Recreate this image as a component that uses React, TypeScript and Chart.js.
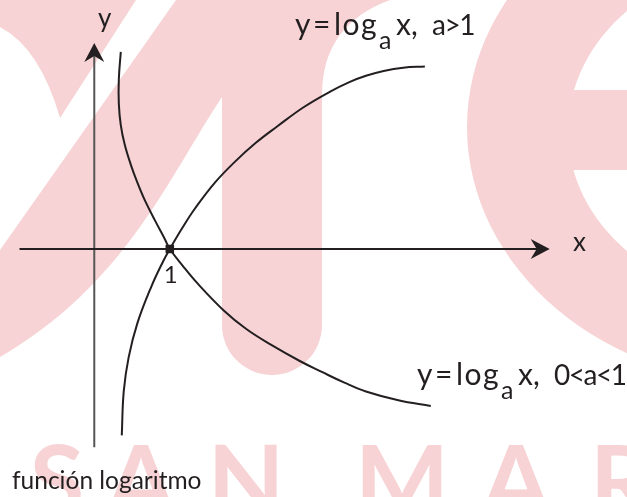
import { useEffect, useRef } from "react";
import { Chart, registerables } from "chart.js";

Chart.register(...registerables);

// ---- data (1 unit = distance from origin to x=1) ----
const increasingX = [0.364, 0.39, 0.455, 0.571, 0.753, 0.909, 1.0, 1.169, 1.338, 1.597, 1.857, 2.143, 2.429, 2.766, 3.117, 3.377, 3.597, 3.831, 4.091, 4.377];
const increasingY = [-2.481, -1.896, -1.442, -0.987, -0.506, -0.169, 0, 0.286, 0.545, 0.883, 1.156, 1.416, 1.636, 1.883, 2.091, 2.221, 2.305, 2.37, 2.413, 2.429];

const decreasingX = [0.351, 0.325, 0.325, 0.351, 0.403, 0.481, 0.571, 0.675, 0.805, 0.935, 1.0, 1.169, 1.364, 1.714, 2.013, 2.338, 2.727, 3.013, 3.312, 3.597, 4.026, 4.455];
const decreasingY = [2.623, 2.26, 1.935, 1.649, 1.39, 1.13, 0.883, 0.636, 0.377, 0.13, 0, -0.221, -0.455, -0.818, -1.065, -1.273, -1.494, -1.636, -1.779, -1.896, -2.013, -2.091];

const markX = [1];
const markY = [0];

const xAxisRange = [-0.99, 6.03];
const yAxisRange = [-2.64, 2.74];
const viewX = [-1.1688, 6.974];
const viewY = [-3.2208, 3.2338];

const tickLabels = ["1"];
const axisNames = ["x", "y"];
const upperLabel = ["y", "=", "log", "a", "x,", "a>1"];
const lowerLabel = ["y", "=", "log", "a", "x,", "0<a<1"];
const captionText = ["función logaritmo"];
const watermarkLetters = ["S", "A", "N", "M", "A", "R"];

// ---- styles ----
const INK = "#231f20";
const AXIS_Y = "#555555";
const PINK = "#f7d3d5";
const FONT = "Lato, 'Open Sans', sans-serif";

function pts(xs: number[], ys: number[]) {
  return xs.map((x, i) => ({ x, y: ys[i] }));
}

const watermarkPlugin = {
  id: "watermark",
  beforeDraw(chart: any) {
    const ctx: CanvasRenderingContext2D = chart.ctx;
    const W = chart.width;
    const H = chart.height;
    ctx.save();
    ctx.fillStyle = "#ffffff";
    ctx.fillRect(0, 0, W, H);
    ctx.fillStyle = PINK;

    // upper-left arm
    ctx.beginPath();
    ctx.moveTo(0, 0);
    ctx.lineTo(136, 0);
    ctx.lineTo(60, 118);
    ctx.quadraticCurveTo(40, 48, 0, 27);
    ctx.closePath();
    ctx.fill();

    // "m": slanted leg + stem
    ctx.beginPath();
    ctx.moveTo(176, 0);
    ctx.lineTo(390, 0);
    ctx.quadraticCurveTo(322, 25, 322, 95);
    ctx.lineTo(322, 325);
    ctx.arc(272, 325, 50, 0, Math.PI, false);
    ctx.lineTo(222, 97);
    ctx.bezierCurveTo(170, 175, 125, 285, 0, 357);
    ctx.lineTo(0, 250);
    ctx.closePath();
    ctx.fill();

    // "e"
    ctx.beginPath();
    ctx.ellipse(775, 127, 308, 258, 0, 0, Math.PI * 2);
    ctx.fill();
    ctx.fillStyle = "#ffffff";
    ctx.beginPath();
    ctx.ellipse(775, 131, 207, 172, 0, 0, Math.PI * 2);
    ctx.fill();
    ctx.fillStyle = PINK;
    ctx.fillRect(560, 90, W - 560, 80);

    // SAN MAR
    ctx.font = `bold 100px ${FONT}`;
    ctx.textAlign = "center";
    ctx.textBaseline = "alphabetic";
    const centers = [57, 141, 246, 402, 516, 622];
    watermarkLetters.forEach((ch, i) => ctx.fillText(ch, centers[i], 517));
    ctx.restore();
  },
};

function arrow(ctx: CanvasRenderingContext2D, tx: number, ty: number, dx: number, dy: number) {
  const len = 19;
  const half = 10;
  const notch = 13;
  const px = -dy;
  const py = dx;
  ctx.beginPath();
  ctx.moveTo(tx, ty);
  ctx.lineTo(tx - dx * len + px * half, ty - dy * len + py * half);
  ctx.lineTo(tx - dx * notch, ty - dy * notch);
  ctx.lineTo(tx - dx * len - px * half, ty - dy * len - py * half);
  ctx.closePath();
  ctx.fill();
}

const axesPlugin = {
  id: "axesArrows",
  beforeDatasetsDraw(chart: any) {
    const ctx: CanvasRenderingContext2D = chart.ctx;
    const xs = chart.scales.x;
    const ys = chart.scales.y;
    const x0 = xs.getPixelForValue(0);
    const y0 = ys.getPixelForValue(0);
    const xl = xs.getPixelForValue(xAxisRange[0]);
    const xr = xs.getPixelForValue(xAxisRange[1]);
    const yb = ys.getPixelForValue(yAxisRange[0]);
    const yt = ys.getPixelForValue(yAxisRange[1]);
    ctx.save();
    ctx.strokeStyle = AXIS_Y;
    ctx.fillStyle = INK;
    ctx.lineWidth = 2;
    ctx.beginPath();
    ctx.moveTo(x0, yb);
    ctx.lineTo(x0, yt + 8);
    ctx.stroke();
    arrow(ctx, x0, yt, 0, -1);
    ctx.strokeStyle = INK;
    ctx.beginPath();
    ctx.moveTo(xl, y0);
    ctx.lineTo(xr - 8, y0);
    ctx.stroke();
    arrow(ctx, xr, y0, 1, 0);
    ctx.restore();
  },
};

function drawPieces(ctx: CanvasRenderingContext2D, pieces: string[], x0: number, baseline: number) {
  const offsets = [0, 18, 39, 84, 101, 137];
  pieces.forEach((p, i) => {
    if (i === 3) {
      ctx.font = `25px ${FONT}`;
      (ctx as any).letterSpacing = "0px";
      ctx.fillText(p, x0 + offsets[i], baseline + 14);
    } else if (i === 5) {
      ctx.font = `28px ${FONT}`;
      (ctx as any).letterSpacing = "-1.5px";
      ctx.fillText(p, x0 + offsets[i], baseline);
    } else {
      ctx.font = `30px ${FONT}`;
      (ctx as any).letterSpacing = i === 2 ? "1.5px" : "0px";
      ctx.fillText(p, x0 + offsets[i], baseline);
    }
  });
  (ctx as any).letterSpacing = "0px";
}

const labelsPlugin = {
  id: "labels",
  afterDatasetsDraw(chart: any) {
    const ctx: CanvasRenderingContext2D = chart.ctx;
    const xs = chart.scales.x;
    const ys = chart.scales.y;
    ctx.save();
    ctx.fillStyle = INK;
    ctx.textBaseline = "alphabetic";

    ctx.textAlign = "center";
    ctx.font = `24px ${FONT}`;
    ctx.fillText(tickLabels[0], xs.getPixelForValue(markX[0]) + 1, ys.getPixelForValue(markY[0]) + 34);

    ctx.textAlign = "left";
    ctx.font = `26px ${FONT}`;
    ctx.fillText(axisNames[0], 573, 251);
    ctx.fillText(axisNames[1], 98, 27);

    drawPieces(ctx, upperLabel, 295, 35);
    drawPieces(ctx, lowerLabel, 417, 385);

    ctx.font = `24.5px ${FONT}`;
    ctx.fillText(captionText[0], 12, 489);
    ctx.restore();
  },
};

export default function App() {
  const ref = useRef<HTMLCanvasElement | null>(null);

  useEffect(() => {
    if (!ref.current) return;
    const chart = new Chart(ref.current, {
      type: "scatter",
      data: {
        datasets: [
          {
            data: pts(increasingX, increasingY),
            showLine: true,
            borderColor: INK,
            borderWidth: 2,
            pointRadius: 0,
            tension: 0.4,
            fill: false,
          },
          {
            data: pts(decreasingX, decreasingY),
            showLine: true,
            borderColor: INK,
            borderWidth: 2,
            pointRadius: 0,
            tension: 0.4,
            fill: false,
          },
          {
            data: pts(markX, markY),
            showLine: false,
            pointStyle: "rect",
            pointRadius: 6,
            backgroundColor: INK,
            borderWidth: 0,
          },
        ],
      } as any,
      options: {
        animation: false,
        responsive: false,
        events: [],
        layout: { padding: 0 },
        plugins: { legend: { display: false }, tooltip: { enabled: false } },
        scales: {
          x: { type: "linear", min: viewX[0], max: viewX[1], display: false },
          y: { type: "linear", min: viewY[0], max: viewY[1], display: false },
        },
      } as any,
      plugins: [watermarkPlugin, axesPlugin, labelsPlugin],
    });
    return () => chart.destroy();
  }, []);

  return (
    <div style={{ position: "absolute", left: 0, top: 0, width: 627, height: 497 }}>
      <canvas ref={ref} width={627} height={497} style={{ display: "block", width: 627, height: 497 }} />
    </div>
  );
}
